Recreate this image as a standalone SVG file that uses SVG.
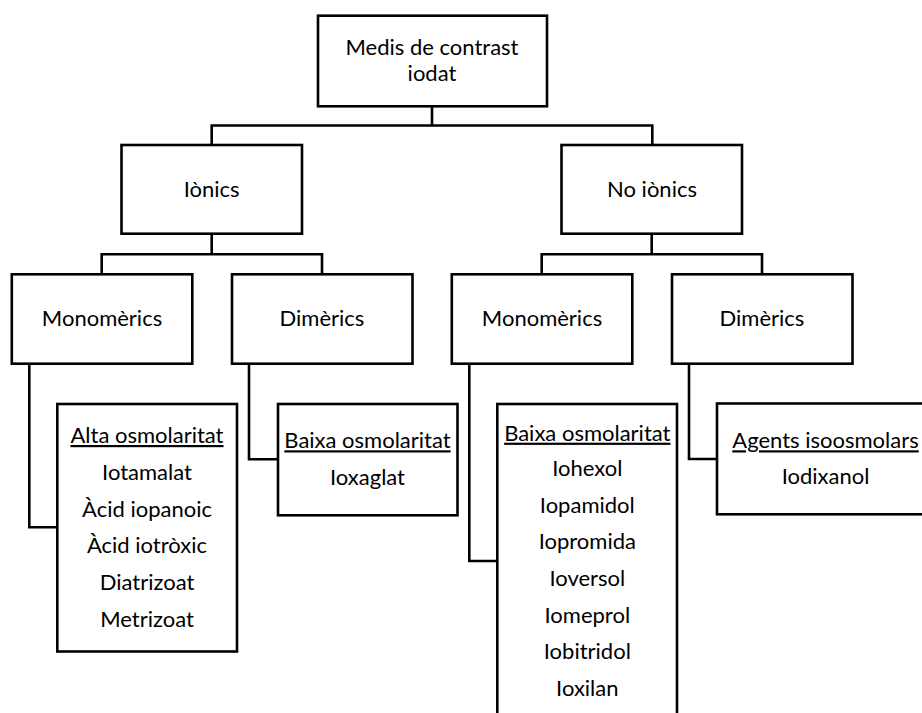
<svg xmlns="http://www.w3.org/2000/svg" width="922" height="713" viewBox="0 0 922 713">
<style>
  .box { fill: #ffffff; stroke: #000000; stroke-width: 2.6; }
  .conn { fill: none; stroke: #000000; stroke-width: 2.6; stroke-linejoin: miter; }
  text { font-family: Lato, "Liberation Sans", sans-serif; font-size: 22px; fill: #000000; text-anchor: middle; }
  .u { text-decoration: underline; }
</style>
<rect width="922" height="713" fill="#ffffff"/>
<g id="connectors">
  <path class="conn" d="M432,106 V125.5 M211.7,144 V125.5 H652.3 V144"/>
  <path class="conn" d="M211.7,234 V254.3 M101.7,274 V254.3 H322 V274"/>
  <path class="conn" d="M651.7,234 V254.3 M541.7,274 V254.3 H762 V274"/>
  <path class="conn" d="M29.3,364 V527.3 H57"/>
  <path class="conn" d="M249,364 V459.3 H278"/>
  <path class="conn" d="M469.3,364 V561 H497"/>
  <path class="conn" d="M689,364 V459 H717"/>
</g>
<g id="root">
  <rect class="box" x="318" y="15.7" width="229" height="90.6"/>
  <text x="432" y="55">Medis de contrast</text>
  <text x="432" y="81">iodat</text>
</g>
<g id="ionics">
  <rect class="box" x="121.5" y="145" width="180.5" height="88.7"/>
  <text x="211.7" y="196.7">Iònics</text>
</g>
<g id="no-ionics">
  <rect class="box" x="561.5" y="145" width="180.5" height="88.7"/>
  <text x="652" y="196.7">No iònics</text>
</g>
<g id="ionics-monomerics">
  <rect class="box" x="11.8" y="274.3" width="180.5" height="89.4"/>
  <text x="102" y="326">Monomèrics</text>
</g>
<g id="ionics-dimerics">
  <rect class="box" x="232" y="274.3" width="180.5" height="89.4"/>
  <text x="322" y="326">Dimèrics</text>
</g>
<g id="noionics-monomerics">
  <rect class="box" x="451.8" y="274.3" width="180.5" height="89.4"/>
  <text x="542" y="326">Monomèrics</text>
</g>
<g id="noionics-dimerics">
  <rect class="box" x="672" y="274.3" width="180.5" height="89.4"/>
  <text x="762" y="326">Dimèrics</text>
</g>
<g id="alta-osmolaritat">
  <rect class="box" x="57.3" y="404" width="179.7" height="247.5"/>
  <text class="u" x="147" y="443">Alta osmolaritat</text>
  <text x="147" y="480">Iotamalat</text>
  <text x="147" y="516.5">Àcid iopanoic</text>
  <text x="147" y="553">Àcid iotròxic</text>
  <text x="147" y="590">Diatrizoat</text>
  <text x="147" y="626.5">Metrizoat</text>
</g>
<g id="baixa-osmolaritat-ionics">
  <rect class="box" x="278" y="404" width="179.5" height="111.3"/>
  <text class="u" x="367.5" y="448.3">Baixa osmolaritat</text>
  <text x="367.5" y="485">Ioxaglat</text>
</g>
<g id="baixa-osmolaritat-noionics">
  <rect class="box" x="497.3" y="404" width="179.7" height="330"/>
  <text class="u" x="587.3" y="440.7">Baixa osmolaritat</text>
  <text x="587.3" y="476">Iohexol</text>
  <text x="587.3" y="512.7">Iopamidol</text>
  <text x="587.3" y="549.3">Iopromida</text>
  <text x="587.3" y="585.7">Ioversol</text>
  <text x="587.3" y="622.7">Iomeprol</text>
  <text x="587.3" y="659.3">Iobitridol</text>
  <text x="587.3" y="696">Ioxilan</text>
</g>
<g id="agents-isoosmolars">
  <rect class="box" x="717" y="403.5" width="240" height="110.8"/>
  <text class="u" x="825.5" y="448.3">Agents isoosmolars</text>
  <text x="825.5" y="484">Iodixanol</text>
</g>
</svg>
